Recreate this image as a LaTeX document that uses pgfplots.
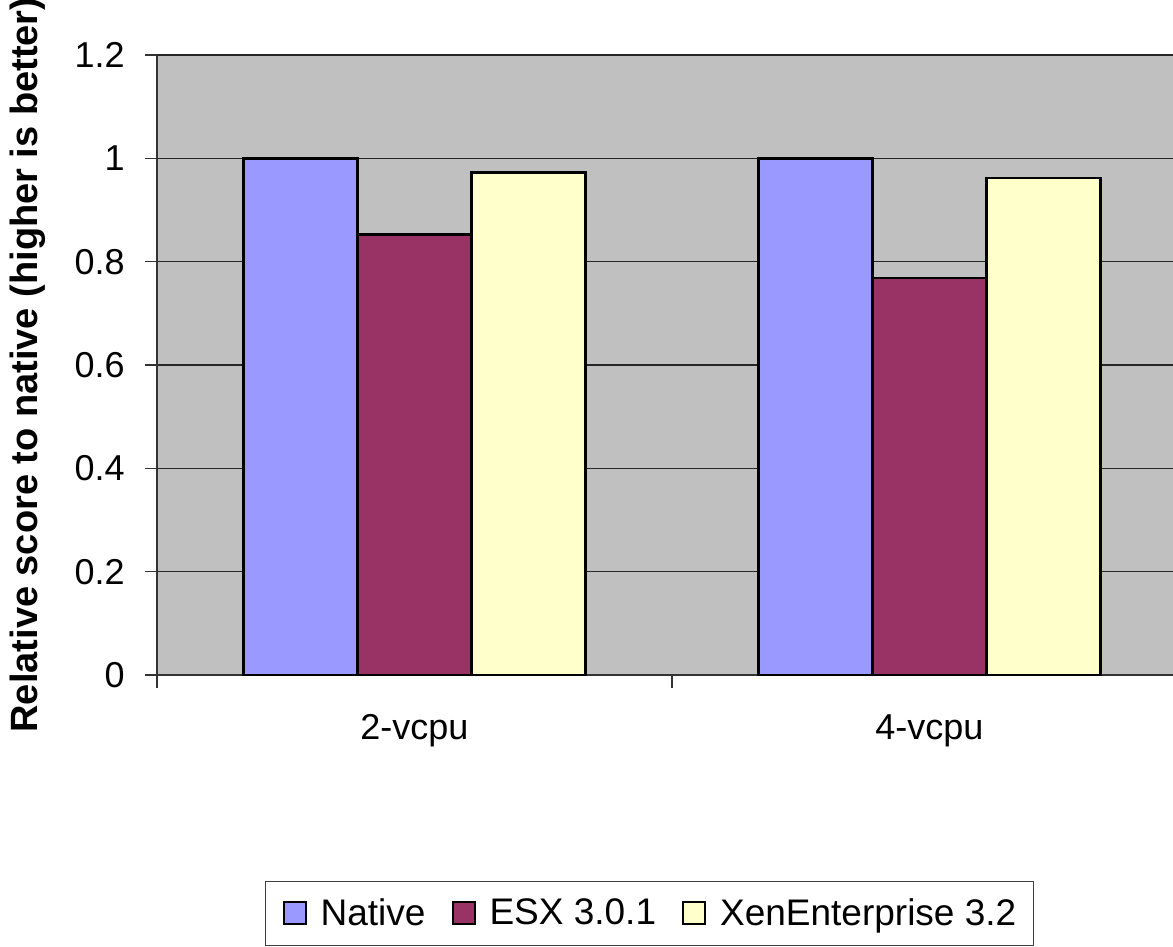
\documentclass[border=0pt]{standalone}
\usepackage{pgfplots}
\pgfplotsset{compat=1.18}
\usepackage{fontspec}
\setmainfont{Liberation Sans}
\definecolor{cNative}{HTML}{9999FF}
\definecolor{cESX}{HTML}{993366}
\definecolor{cXen}{HTML}{FFFFCC}
\definecolor{plotbg}{HTML}{C0C0C0}
\begin{document}
\begin{tikzpicture}
\begin{axis}[
  scale only axis,
  width=515pt, height=310pt,
  xmin=-0.5, xmax=1.5,
  ymin=0, ymax=1.2,
  ytick={0,0.2,0.4,0.6,0.8,1,1.2},
  yticklabels={0,0.2,0.4,0.6,0.8,1,1.2},
  xtick={0,1},
  xticklabels={2-vcpu,4-vcpu},
  minor xtick={-0.5,0.5,1.5},
  x tick style={draw=none},
  minor x tick style={draw=black!80, line width=0.6pt},
  minor tick length=6.5pt,
  y tick style={draw=black!80, line width=0.6pt},
  major tick length=6pt,
  tick align=outside,
  axis x line*=bottom,
  axis y line*=left,
  axis line style={draw=black!80, line width=0.7pt, -},
  axis background/.style={fill=plotbg},
  ymajorgrids,
  grid style={draw=black!85, line width=0.55pt},
  ybar=0pt,
  bar width=57pt,
  every axis plot/.append style={draw=black, line width=1.3pt},
  tick label style={font=\fontsize{18}{21}\selectfont},
  yticklabel style={inner sep=0pt, anchor=east, xshift=-10pt},
  xticklabel style={inner sep=0pt, anchor=north, yshift=-13.5pt},
  every axis y label/.style={at={(axis description cs:-0.1252,0.5)}, rotate=90, anchor=center,
     font=\fontsize{19}{22}\selectfont\bfseries},
  ylabel={Relative score to native (higher is better)},
  legend columns=3,
  legend style={at={(axis description cs:0.1049,-0.332)}, anchor=north west,
     draw=black!75, line width=0.6pt, fill=white,
     font=\fontsize{18.5}{22}\selectfont,
     nodes={inner sep=0pt},
     inner xsep=8.5pt, inner ysep=8.5pt,
     /tikz/every even column/.append style={column sep=13pt},
     /tikz/every odd column/.append style={column sep=7pt}},
  legend image code/.code={\draw[#1, line width=1pt] (0pt,-5.5pt) rectangle (11pt,5.5pt);},
  legend cell align=left,
]
\addplot[fill=cNative] coordinates {(0,1.0) (1,1.0)};
\addplot[fill=cESX] coordinates {(0,0.852) (1,0.768)};
\addplot[fill=cXen] coordinates {(0,0.973) (1,0.962)};
\legend{Native,ESX 3.0.1,XenEnterprise 3.2}
\coordinate (O) at (rel axis cs:0,0);
\end{axis}
\pgfresetboundingbox
\path[use as bounding box] ([shift={(-78.5pt,-136pt)}]O) rectangle ([shift={(508pt,337.5pt)}]O);
\end{tikzpicture}
\end{document}
